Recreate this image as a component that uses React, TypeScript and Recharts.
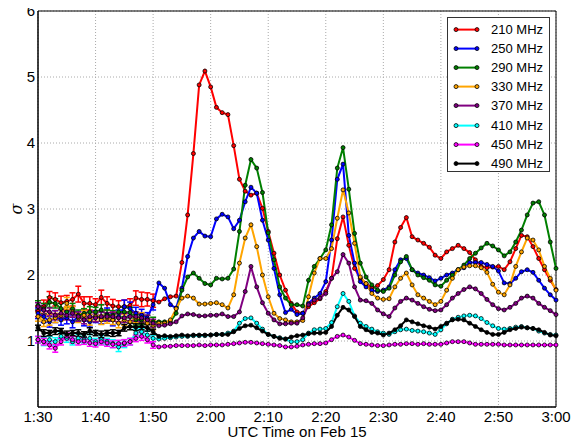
import React from 'react';
import { LineChart, Line, XAxis, YAxis, CartesianGrid, ErrorBar, ReferenceArea, Legend, Label } from 'recharts';

const tickMinutes = [0, 10, 20, 30, 40, 50, 60, 70, 80, 90];
const timeLabels = ['1:30', '1:40', '1:50', '2:00', '2:10', '2:20', '2:30', '2:40', '2:50', '3:00'];
const yTicks = [1, 2, 3, 4, 5, 6];
const seriesNames = ['210 MHz', '250 MHz', '290 MHz', '330 MHz', '370 MHz', '410 MHz', '450 MHz', '490 MHz'];
const seriesColors = ['#ff0000', '#0000ff', '#008000', '#ffa500', '#800080', '#00ffff', '#ff00ff', '#000000'];

// one sample per minute, 1:30 .. 3:00
const s210 = [1.45, 1.52, 1.66, 1.63, 1.58, 1.6, 1.63, 1.71, 1.57, 1.57, 1.55,
  1.66, 1.57, 1.53, 1.52, 1.52, 1.54, 1.65, 1.63, 1.63, 1.61,
  1.59, 1.64, 1.67, 1.68, 2.19, 2.91, 3.84, 4.88, 5.09, 4.85,
  4.54, 4.46, 4.43, 3.96, 3.45, 3.27, 3.21, 3.24, 3.01, 2.66,
  2.33, 2.0, 1.77, 1.57, 1.44, 1.42, 1.52, 1.58, 1.64, 1.75,
  1.95, 2.55, 2.88, 2.45, 2.1, 1.95, 1.87, 1.8, 1.84, 1.93,
  2.08, 2.5, 2.72, 2.87, 2.58, 2.53, 2.48, 2.42, 2.3, 2.25,
  2.35, 2.4, 2.45, 2.4, 2.34, 2.23, 2.13, 2.11, 2.12, 2.13,
  2.08, 2.2, 2.4, 2.6, 2.58, 2.43, 2.25, 2.08, 1.92, 1.78];
const s250 = [1.42, 1.37, 1.29, 1.37, 1.32, 1.35, 1.29, 1.37, 1.32, 1.29, 1.37,
  1.35, 1.4, 1.32, 1.37, 1.52, 1.49, 1.42, 1.39, 1.35, 1.55,
  1.88, 1.8, 1.55, 1.5, 1.8, 2.28, 2.56, 2.66, 2.59, 2.58,
  2.85, 2.92, 2.88, 2.7, 2.83, 3.11, 3.33, 3.24, 2.83, 2.53,
  2.1, 1.7, 1.43, 1.48, 1.4, 1.42, 1.57, 1.65, 1.72, 1.9,
  2.53, 3.45, 3.68, 2.6, 2.18, 1.9, 1.82, 1.77, 1.75, 1.77,
  1.82, 2.08, 2.23, 2.25, 2.08, 2.03, 2.0, 1.96, 1.91, 1.95,
  2.0, 2.03, 2.08, 2.11, 2.19, 2.19, 2.19, 2.16, 2.13, 2.06,
  1.88, 1.87, 1.95, 2.05, 2.08, 2.04, 1.92, 1.8, 1.7, 1.62];
const s290 = [1.54, 1.49, 1.59, 1.57, 1.49, 1.44, 1.49, 1.39, 1.42, 1.44, 1.44,
  1.47, 1.39, 1.39, 1.44, 1.44, 1.43, 1.32, 1.32, 1.32, 1.29,
  1.29, 1.29, 1.29, 1.42, 1.77, 1.97, 2.03, 1.95, 1.87, 1.85,
  1.95, 1.94, 1.95, 2.09, 2.66, 3.36, 3.75, 3.62, 3.25, 2.64,
  2.23, 1.82, 1.65, 1.55, 1.55, 1.53, 1.92, 2.13, 2.25, 2.38,
  2.76, 3.62, 3.93, 3.3, 2.63, 2.18, 1.97, 1.85, 1.77, 1.75,
  1.8, 2.0, 2.2, 2.28, 2.08, 2.0, 1.96, 1.92, 1.85, 1.83,
  1.92, 2.0, 2.08, 2.15, 2.25, 2.33, 2.41, 2.48, 2.44, 2.38,
  2.29, 2.35, 2.5, 2.68, 2.91, 3.09, 3.11, 2.91, 2.5, 2.1];
const s330 = [1.37, 1.29, 1.32, 1.35, 1.39, 1.57, 1.44, 1.35, 1.39, 1.32, 1.37,
  1.32, 1.35, 1.32, 1.27, 1.32, 1.29, 1.35, 1.35, 1.27, 1.24,
  1.27, 1.27, 1.32, 1.49, 1.65, 1.68, 1.65, 1.56, 1.56, 1.57,
  1.58, 1.55, 1.5, 1.7, 2.18, 2.56, 2.76, 2.43, 2.0, 1.67,
  1.42, 1.34, 1.32, 1.29, 1.29, 1.31, 1.67, 2.03, 2.25, 2.25,
  2.4, 2.86, 3.29, 2.94, 2.48, 1.97, 1.87, 1.72, 1.65, 1.63,
  1.64, 1.82, 1.95, 2.03, 1.85, 1.7, 1.65, 1.6, 1.55, 1.6,
  1.77, 1.95, 2.08, 2.12, 2.14, 2.14, 2.11, 2.04, 1.86, 1.74,
  1.7, 1.85, 2.13, 2.35, 2.56, 2.53, 2.38, 2.13, 1.95, 1.77];
const s370 = [1.52, 1.47, 1.44, 1.39, 1.42, 1.39, 1.42, 1.37, 1.32, 1.37, 1.35,
  1.37, 1.37, 1.37, 1.35, 1.35, 1.37, 1.37, 1.35, 1.32, 1.27,
  1.23, 1.24, 1.26, 1.29, 1.38, 1.41, 1.4, 1.38, 1.38, 1.39,
  1.39, 1.41, 1.37, 1.37, 1.44, 1.75, 2.13, 1.82, 1.58, 1.42,
  1.32, 1.26, 1.26, 1.27, 1.27, 1.35, 1.55, 1.62, 1.65, 1.72,
  1.95, 2.05, 2.31, 2.18, 1.82, 1.62, 1.61, 1.57, 1.47, 1.41,
  1.37, 1.5, 1.6, 1.65, 1.62, 1.57, 1.52, 1.48, 1.46, 1.47,
  1.55, 1.65, 1.72, 1.78, 1.82, 1.79, 1.72, 1.63, 1.55, 1.49,
  1.47, 1.51, 1.57, 1.65, 1.68, 1.65, 1.57, 1.51, 1.46, 1.4];
const s410 = [1.02, 0.99, 1.02, 0.99, 1.07, 1.04, 0.99, 1.04, 1.02, 1.04, 0.99,
  1.02, 0.99, 0.96, 0.91, 0.96, 0.99, 1.12, 1.14, 1.09, 1.04,
  1.03, 1.04, 1.05, 1.06, 1.07, 1.07, 1.08, 1.08, 1.08, 1.09,
  1.1, 1.1, 1.12, 1.15, 1.27, 1.34, 1.35, 1.27, 1.18, 1.1,
  1.07, 1.05, 1.03, 0.99, 0.99, 1.02, 1.12, 1.17, 1.18, 1.19,
  1.28, 1.52, 1.72, 1.6, 1.38, 1.27, 1.22, 1.18, 1.14, 1.12,
  1.1, 1.14, 1.17, 1.18, 1.16, 1.15, 1.14, 1.12, 1.1, 1.17,
  1.26, 1.33, 1.36, 1.38, 1.39, 1.38, 1.34, 1.28, 1.23, 1.19,
  1.18, 1.19, 1.21, 1.22, 1.2, 1.19, 1.15, 1.12, 1.1, 1.09];
const s450 = [1.02, 0.99, 0.94, 0.89, 0.99, 1.07, 1.02, 0.99, 1.0, 0.97, 0.96,
  0.99, 0.97, 0.95, 0.96, 0.97, 0.99, 1.04, 1.07, 1.02, 0.94,
  0.91, 0.92, 0.92, 0.93, 0.93, 0.93, 0.93, 0.94, 0.93, 0.94,
  0.94, 0.94, 0.95, 0.96, 0.97, 0.98, 0.98, 0.97, 0.96, 0.95,
  0.94, 0.93, 0.91, 0.91, 0.92, 0.94, 0.95, 0.96, 0.96, 0.97,
  1.02, 1.07, 1.09, 1.06, 1.01, 0.96, 0.95, 0.94, 0.93, 0.93,
  0.94, 0.95, 0.95, 0.96, 0.96, 0.95, 0.96, 0.95, 0.95, 0.95,
  0.97, 0.99, 0.99, 0.99, 0.97, 0.95, 0.95, 0.95, 0.95, 0.95,
  0.94, 0.94, 0.94, 0.94, 0.94, 0.94, 0.94, 0.94, 0.94, 0.94];
const s490 = [1.2, 1.12, 1.12, 1.15, 1.15, 1.1, 1.12, 1.12, 1.1, 1.15, 1.12,
  1.1, 1.12, 1.12, 1.12, 1.2, 1.22, 1.21, 1.22, 1.2, 1.14,
  1.07, 1.08, 1.07, 1.08, 1.09, 1.08, 1.09, 1.09, 1.09, 1.09,
  1.1, 1.1, 1.1, 1.14, 1.19, 1.23, 1.24, 1.2, 1.15, 1.1,
  1.07, 1.04, 1.03, 1.06, 1.08, 1.09, 1.11, 1.12, 1.12, 1.13,
  1.22, 1.39, 1.51, 1.47, 1.37, 1.22, 1.17, 1.13, 1.12, 1.09,
  1.12, 1.17, 1.23, 1.32, 1.29, 1.26, 1.23, 1.21, 1.18, 1.22,
  1.27, 1.32, 1.33, 1.32, 1.27, 1.22, 1.17, 1.13, 1.1, 1.1,
  1.13, 1.17, 1.19, 1.21, 1.2, 1.19, 1.17, 1.13, 1.09, 1.08];

// error bar half-heights, first 20 minutes only
const e210 = [0.08, 0.1, 0.09, 0.1, 0.1, 0.09, 0.1, 0.12, 0.1, 0.1, 0.09, 0.11, 0.1, 0.1, 0.09, 0.1, 0.1, 0.11, 0.11, 0.1, 0.1];
const e250 = [0.08, 0.09, 0.08, 0.09, 0.08, 0.09, 0.09, 0.08, 0.09, 0.08, 0.09, 0.09, 0.1, 0.09, 0.1, 0.1, 0.1, 0.09, 0.09, 0.08, 0.08];
const e290 = [0.07, 0.08, 0.08, 0.07, 0.08, 0.07, 0.08, 0.08, 0.07, 0.08, 0.07, 0.08, 0.08, 0.07, 0.08, 0.07, 0.08, 0.08, 0.07, 0.07, 0.07];
const e330 = [0.07, 0.07, 0.08, 0.07, 0.08, 0.09, 0.08, 0.07, 0.07, 0.08, 0.07, 0.07, 0.08, 0.07, 0.07, 0.08, 0.07, 0.07, 0.08, 0.07, 0.07];
const e370 = [0.06, 0.07, 0.06, 0.07, 0.06, 0.07, 0.06, 0.07, 0.06, 0.07, 0.06, 0.07, 0.06, 0.07, 0.06, 0.07, 0.06, 0.07, 0.06, 0.07, 0.06];
const e410 = [0.05, 0.06, 0.05, 0.06, 0.05, 0.06, 0.05, 0.06, 0.05, 0.06, 0.05, 0.06, 0.05, 0.06, 0.07, 0.06, 0.05, 0.06, 0.05, 0.06, 0.05];
const e450 = [0.05, 0.05, 0.06, 0.06, 0.05, 0.05, 0.05, 0.05, 0.05, 0.05, 0.05, 0.05, 0.05, 0.05, 0.05, 0.05, 0.05, 0.05, 0.06, 0.05, 0.05];
const e490 = [0.04, 0.05, 0.04, 0.05, 0.04, 0.05, 0.04, 0.05, 0.04, 0.05, 0.04, 0.05, 0.04, 0.05, 0.04, 0.05, 0.05, 0.05, 0.05, 0.05, 0.04];

const seriesValues = [s210, s250, s290, s330, s370, s410, s450, s490];
const seriesErrors = [e210, e250, e290, e330, e370, e410, e450, e490];

const data = s210.map((_, i) => {
  const row: Record<string, number | undefined> = { t: i };
  seriesValues.forEach((arr, k) => {
    row[`s${k}`] = arr[i];
    row[`e${k}`] = i < seriesErrors[k].length ? seriesErrors[k][i] : undefined;
  });
  return row;
});

const FONT = '"Liberation Sans", Arial, Helvetica, sans-serif';

const renderLegend = () => (
  <div
    style={{
      position: 'relative',
      width: 103,
      height: 155,
      border: '1px solid #333',
      background: '#fff',
      boxSizing: 'border-box',
      fontFamily: FONT,
      fontSize: 13,
      color: '#000',
    }}
  >
    {seriesNames.map((name, i) => (
      <div key={name} style={{ position: 'absolute', left: 0, top: 1.5 + 19.2 * i, height: 19.2, width: 101 }}>
        <svg width={40} height={19} style={{ position: 'absolute', left: 0, top: 0 }}>
          <line x1={8} y1={9.6} x2={29} y2={9.6} stroke={seriesColors[i]} strokeWidth={2} />
          <circle cx={8} cy={9.6} r={2} fill={seriesColors[i]} stroke="#000" strokeWidth={0.8} />
          <circle cx={29} cy={9.6} r={2} fill={seriesColors[i]} stroke="#000" strokeWidth={0.8} />
        </svg>
        <span style={{ position: 'absolute', left: 43, top: 0, lineHeight: '19.2px', whiteSpace: 'nowrap' }}>{name}</span>
      </div>
    ))}
  </div>
);

const SigmaLabel = (props: any) => {
  const vb = props.viewBox || {};
  const cy = (vb.y ?? 0) + (vb.height ?? 0) / 2;
  const x = 22;
  return (
    <text x={x} y={cy} transform={`rotate(-90 ${x} ${cy})`} textAnchor="middle" fontFamily="'DejaVu Serif', serif" fontStyle="italic" fontSize={16} fill="#000">
      σ
    </text>
  );
};

export default function App() {
  return (
    <div style={{ margin: '-8px 0 0 -8px', width: 584, height: 441 }}>
      <LineChart width={584} height={441} data={data} margin={{ top: 11, right: 28, bottom: 4, left: 1 }}>
        <CartesianGrid stroke="#aaaaaa" strokeDasharray="1 2" />
        <XAxis
          dataKey="t"
          type="number"
          domain={[0, 90]}
          ticks={tickMinutes}
          tickFormatter={(v: number) => timeLabels[tickMinutes.indexOf(v)]}
          height={30}
          tickSize={0}
          tickMargin={4}
          axisLine={{ stroke: '#000' }}
          tick={{ fill: '#000', fontSize: 15, fontFamily: FONT }}
          interval={0}
        >
          <Label value="UTC Time on Feb 15" position="insideBottom" offset={0} fill="#000" fontSize={15} fontFamily={FONT} />
        </XAxis>
        <YAxis
          type="number"
          domain={[0, 6]}
          ticks={yTicks}
          width={37}
          tickSize={0}
          tickMargin={3}
          axisLine={{ stroke: '#000' }}
          tick={{ fill: '#000', fontSize: 15, fontFamily: FONT }}
          interval={0}
        >
          <Label content={<SigmaLabel />} />
        </YAxis>
        {seriesNames.map((name, k) => (
          <Line
            key={name}
            name={name}
            type="linear"
            dataKey={`s${k}`}
            stroke={seriesColors[k]}
            strokeWidth={2}
            dot={{ r: 2, fill: seriesColors[k], stroke: '#000', strokeWidth: 0.8 }}
            activeDot={false}
            isAnimationActive={false}
          >
            <ErrorBar dataKey={`e${k}`} stroke={seriesColors[k]} width={3} strokeWidth={1.5} direction="y" />
          </Line>
        ))}
        <ReferenceArea x1={0} x2={90} y1={0} y2={6} fill="none" stroke="#000" strokeWidth={1} ifOverflow="visible" />
        <Legend
          layout="vertical"
          align="center"
          verticalAlign="middle"
          wrapperStyle={{ top: 17, left: 447, width: 103, height: 155 }}
          content={renderLegend}
        />
      </LineChart>
    </div>
  );
}
